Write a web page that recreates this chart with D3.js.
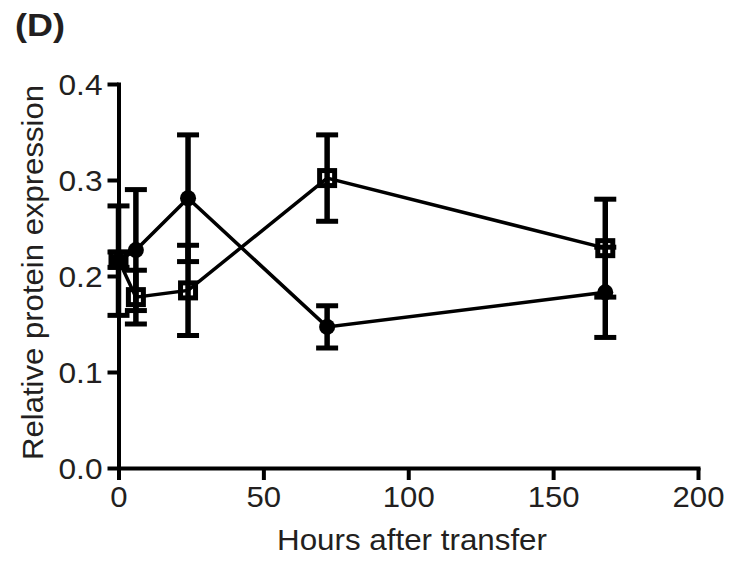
<!DOCTYPE html>
<html>
<head>
<meta charset="utf-8">
<script src="https://cdn.jsdelivr.net/npm/d3@7"></script>
<style>
  body { margin: 0; background: #fff; }
  text { font-family: "Liberation Sans", Arial, sans-serif; fill: #231f20; }
</style>
</head>
<body>
<div id="chart"></div>
<script>
// Data
const hours = [0, 6, 24, 72, 168];
const circleMean = [0.216, 0.227, 0.281, 0.147, 0.183];
const circleErr  = [0.057, 0.063, 0.066, 0.022, 0.047];
const squareMean = [0.217, 0.178, 0.185, 0.302, 0.229];
const squareErr  = [0.008, 0.028, 0.047, 0.045, 0.051];
const xTicks = [0, 50, 100, 150, 200];
const yTicks = [0.0, 0.1, 0.2, 0.3, 0.4];

const W = 729, H = 561;
const margin = {top: 84, right: 31, bottom: 93, left: 118.5};
const width = W - margin.left - margin.right;
const height = H - margin.top - margin.bottom;

const svg = d3.select("#chart")
    .append("svg")
    .attr("width", W)
    .attr("height", H);

const g = svg.append("g")
    .attr("transform", "translate(" + margin.left + "," + margin.top + ")");

const x = d3.scaleLinear().domain([0, 200]).range([0, width]);
const y = d3.scaleLinear().domain([0, 0.4]).range([height, 0]);

// axes
const xAxis = d3.axisBottom(x).tickValues(xTicks).tickSize(12).tickSizeOuter(0).tickPadding(6)
    .tickFormat(d3.format("d"));
const yAxis = d3.axisLeft(y).tickValues(yTicks).tickSize(11).tickSizeOuter(0).tickPadding(5)
    .tickFormat(d3.format(".1f"));

const gx = g.append("g")
    .attr("transform", "translate(0," + height + ")")
    .call(xAxis);
const gy = g.append("g").call(yAxis);

[gx, gy].forEach(a => {
  a.selectAll("path, line").attr("stroke", "#000").attr("stroke-width", 4);
  a.selectAll("text").style("font-size", "29.5px").attr("fill", "#231f20");
  a.select(".domain").attr("stroke-linecap", "square");
});
gy.selectAll("text").attr("dy", "0.36em");
// the figure's lettering is a little wider than plain Arial
gx.selectAll("text").attr("textLength", d => String(d).length * 17.3).attr("lengthAdjust", "spacingAndGlyphs");
gy.selectAll("text").attr("textLength", 44).attr("lengthAdjust", "spacingAndGlyphs");

// series
const series = [
  {mean: circleMean, err: circleErr, shape: "circle"},
  {mean: squareMean, err: squareErr, shape: "square"}
];

const line = d3.line().x(d => x(d.h)).y(d => y(d.m));

series.forEach(s => {
  s.pts = hours.map((h, i) => ({h: h, m: s.mean[i], e: s.err[i]}));
  g.append("path")
      .datum(s.pts)
      .attr("fill", "none")
      .attr("stroke", "#000")
      .attr("stroke-width", 3.5)
      .attr("d", line);
});

// error bars
series.forEach(s => {
  const eb = g.append("g").selectAll("g").data(s.pts).enter().append("g");
  eb.append("line")
      .attr("x1", d => x(d.h)).attr("x2", d => x(d.h))
      .attr("y1", d => y(d.m + d.e)).attr("y2", d => y(d.m - d.e))
      .attr("stroke", "#000").attr("stroke-width", 5.5);
  [1, -1].forEach(sg => {
    eb.append("line")
        .attr("x1", d => x(d.h) - 11).attr("x2", d => x(d.h) + 11)
        .attr("y1", d => y(d.m + sg * d.e)).attr("y2", d => y(d.m + sg * d.e))
        .attr("stroke", "#000").attr("stroke-width", 5);
  });
});

// markers
series.forEach(s => {
  const m = g.append("g").selectAll(".m").data(s.pts).enter();
  if (s.shape === "circle") {
    m.append("circle")
        .attr("cx", d => x(d.h)).attr("cy", d => y(d.m))
        .attr("r", 8).attr("fill", "#000");
  } else {
    m.append("rect")
        .attr("x", d => x(d.h) - 7.5).attr("y", d => y(d.m) - 7.5)
        .attr("width", 15).attr("height", 15)
        .attr("fill", "none").attr("stroke", "#000").attr("stroke-width", 5);
  }
});

// axis titles
svg.append("text")
    .attr("x", 412).attr("y", 550)
    .attr("text-anchor", "middle")
    .style("font-size", "30px")
    .attr("textLength", 270).attr("lengthAdjust", "spacingAndGlyphs")
    .text("Hours after transfer");

svg.append("text")
    .attr("transform", "translate(43,272.5) rotate(-90)")
    .attr("text-anchor", "middle")
    .style("font-size", "30px")
    .attr("textLength", 375).attr("lengthAdjust", "spacingAndGlyphs")
    .text("Relative protein expression");

// panel label
svg.append("text")
    .attr("x", 15).attr("y", 36)
    .style("font-size", "31px")
    .style("font-weight", "bold")
    .attr("textLength", 50).attr("lengthAdjust", "spacingAndGlyphs")
    .text("(D)");
</script>
</body>
</html>
